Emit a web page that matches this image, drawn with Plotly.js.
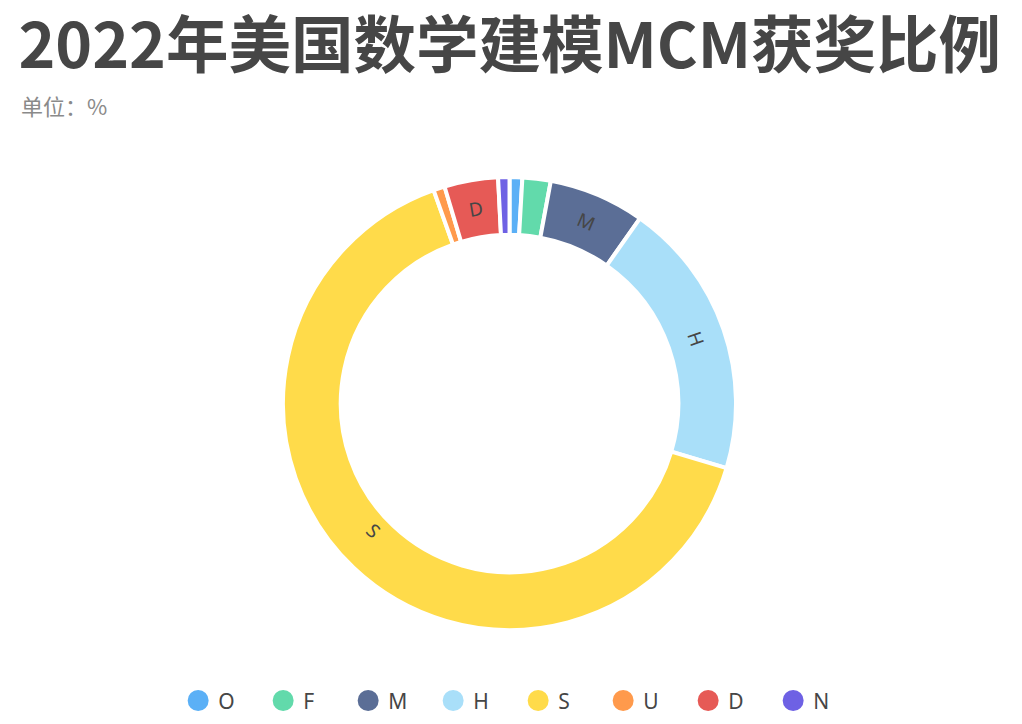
<!DOCTYPE html>
<html>
<head>
<meta charset="utf-8">
<script src="https://cdn.plot.ly/plotly-3.0.1.min.js"></script>
<style>
  html, body { margin: 0; padding: 0; background: #fff; }
  #graph { width: 1022px; height: 724px; }
</style>
</head>
<body>
<div id="graph"></div>
<script>
// award levels, in drawing order (clockwise from 12 o'clock)
var awardLabels = ["O", "F", "M", "H", "S", "U", "D", "N"];
var awardShare = [0.9, 2.0, 6.8, 19.7, 64.5, 0.8, 3.8, 0.8];
var awardColors = ["#5BB0F6", "#62DAAB", "#5B6E96", "#A9DFF9", "#FFDB4A", "#FF9A4C", "#E65A56", "#6E61E4"];
// slices that carry a label inside
var labelled = ["M", "H", "S", "D"];

var textColor = "#464646";
var W = 1022, H = 724;
var pieDomain = {x: [0.2769, 0.7202], y: [0.1298, 0.7555]};
var holeFrac = 0.745;

// plotly puts tangential text of a slice wider than 180deg at 6 o'clock,
// so the big slice gets its label as an annotation at the slice middle instead
var total = awardShare.reduce(function (a, b) { return a + b; }, 0);
var sliceText = [];
var annotations = [];
var cum = 0;
var rOuter = Math.min((pieDomain.x[1] - pieDomain.x[0]) * W, (pieDomain.y[1] - pieDomain.y[0]) * H) / 2;
var rMid = rOuter * (1 + holeFrac) / 2;
var cx = (pieDomain.x[0] + pieDomain.x[1]) / 2;
var cy = (pieDomain.y[0] + pieDomain.y[1]) / 2;
for (var i = 0; i < awardLabels.length; i++) {
    var frac = awardShare[i] / total;
    var show = labelled.indexOf(awardLabels[i]) >= 0;
    if (show && frac > 0.5) {
        var mid = (cum + frac / 2) * 2 * Math.PI;
        var deg = mid * 180 / Math.PI;
        var rot = (deg > 90 && deg < 270) ? deg - 180 : deg;
        annotations.push({
            text: awardLabels[i],
            xref: "paper", yref: "paper",
            x: cx + rMid * Math.sin(mid) / W,
            y: cy + rMid * Math.cos(mid) / H,
            showarrow: false,
            textangle: rot,
            font: {size: 19, color: textColor}
        });
        sliceText.push("");
    } else {
        sliceText.push(show ? awardLabels[i] : "");
    }
    cum += frac;
}

var data = [{
    type: "pie",
    labels: awardLabels,
    values: awardShare,
    text: sliceText,
    textinfo: "text",
    textposition: "inside",
    insidetextorientation: "tangential",
    insidetextfont: {size: 19, color: textColor},
    hole: holeFrac,
    sort: false,
    direction: "clockwise",
    rotation: 0,
    marker: {colors: awardColors, line: {color: "#ffffff", width: 4}},
    domain: pieDomain,
    showlegend: false,
    hoverinfo: "label+value"
}];

// legend entries with round markers
for (var j = 0; j < awardLabels.length; j++) {
    data.push({
        type: "scatter",
        mode: "markers",
        x: [null], y: [null],
        name: awardLabels[j],
        marker: {color: awardColors[j], size: 16, symbol: "circle",
                 line: {color: awardColors[j], width: 5}},
        showlegend: true,
        hoverinfo: "skip"
    });
}

annotations.push({
    text: "单位：%",
    xref: "paper", yref: "paper",
    x: 0.019, xanchor: "left",
    y: 0.855, yanchor: "middle",
    showarrow: false,
    font: {family: "Noto Sans CJK SC, Noto Sans, sans-serif", size: 22, color: "#8a8a8a"}
});

var layout = {
    width: W, height: H,
    margin: {t: 0, b: 0, l: 0, r: 0},
    paper_bgcolor: "#ffffff",
    plot_bgcolor: "#ffffff",
    font: {family: "Noto Sans, Noto Sans CJK SC, sans-serif", color: textColor},
    title: {
        text: "2022年美国数学建模MCM获奖比例",
        font: {family: "Noto Sans CJK SC, Noto Sans, sans-serif", size: 62.5, weight: 700, color: textColor},
        x: 0.018, xanchor: "left",
        y: 0.937, yanchor: "middle"
    },
    annotations: annotations,
    xaxis: {visible: false, domain: [0, 0.01]},
    yaxis: {visible: false, domain: [0, 0.01]},
    showlegend: true,
    legend: {
        orientation: "h",
        x: 0.507, xanchor: "center",
        y: 0.032, yanchor: "middle",
        font: {size: 21, color: textColor},
        entrywidth: 40,
        entrywidthmode: "pixels"
    }
};

Plotly.newPlot("graph", data, layout, {displayModeBar: false});
</script>
</body>
</html>
